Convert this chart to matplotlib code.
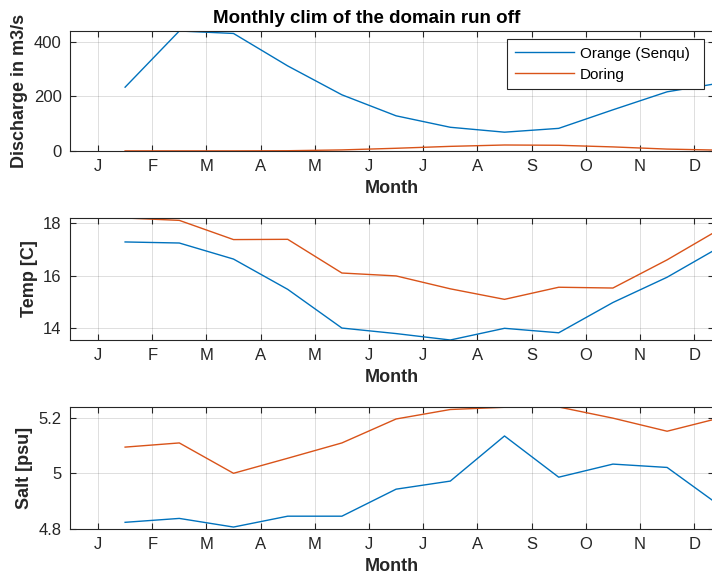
import matplotlib
matplotlib.use("Agg")
import matplotlib.pyplot as plt
import numpy as np

plt.rcParams['font.family'] = ['Liberation Sans', 'DejaVu Sans']

months = ['J', 'F', 'M', 'A', 'M', 'J', 'J', 'A', 'S', 'O', 'N', 'D']
# mid-month positions (month index + 0.5)
x_mid = np.arange(12) + 0.5

series_names = ['Orange (Senqu)', 'Doring']

discharge_orange = [234, 440, 431, 312, 206, 129, 87, 69, 83, 151, 217, 250]
discharge_doring = [0.5, 0.5, 0.5, 1, 4, 10, 17, 22, 21, 15, 7, 3]

temp_orange = [17.28, 17.24, 16.63, 15.48, 14.01, 13.80, 13.556, 14.00, 13.83, 14.98, 15.94, 17.12]
temp_doring = [18.19, 18.10, 17.37, 17.38, 16.10, 15.99, 15.50, 15.10, 15.56, 15.53, 16.60, 17.80]

salt_orange = [4.824, 4.838, 4.807, 4.846, 4.846, 4.943, 4.972, 5.134, 4.986, 5.033, 5.021, 4.880]
salt_doring = [5.094, 5.109, 5.000, 5.054, 5.109, 5.195, 5.229, 5.237, 5.238, 5.198, 5.151, 5.200]

colors = ['#0072BD', '#D95319']
dark = '#262626'

W, H = 712, 578
fig = plt.figure(figsize=(W / 100, H / 100), dpi=100)

def px_axes(left, top, right, bottom):
    return [left / W, 1 - bottom / H, (right - left) / W, (bottom - top) / H]

ax_right = 714
ax1 = fig.add_axes(px_axes(70, 31, ax_right, 151))
ax2 = fig.add_axes(px_axes(70, 218, ax_right, 340))
ax3 = fig.add_axes(px_axes(70, 407, ax_right, 529))

xl = ((70 - 98) / 54.2, (ax_right - 98) / 54.2)

panels = [
    (ax1, discharge_orange, discharge_doring, (0, 440), [0, 200, 400], ['0', '200', '400'], 'Discharge in m3/s'),
    (ax2, temp_orange, temp_doring, (13.556, 18.19), [14, 16, 18], ['14', '16', '18'], 'Temp [C]'),
    (ax3, salt_orange, salt_doring, (4.8, 5.238), [4.8, 5.0, 5.2], ['4.8', '5', '5.2'], 'Salt [psu]'),
]

for ax, s1, s2, yl, yt, ytl, ylab in panels:
    ax.plot(x_mid, s1, color=colors[0], lw=1.0, label=series_names[0])
    ax.plot(x_mid, s2, color=colors[1], lw=1.0, label=series_names[1])
    ax.set_xlim(*xl)
    ax.set_ylim(*yl)
    ax.set_xticks(np.arange(12))
    ax.set_xticklabels(months)
    ax.set_yticks(yt)
    ax.set_yticklabels(ytl)
    ax.grid(True, color=dark, alpha=0.15, lw=0.7)
    ax.set_axisbelow(True)
    for sp in ax.spines.values():
        sp.set_color(dark)
        sp.set_linewidth(0.8)
    ax.tick_params(direction='in', top=True, right=True, length=4.5, width=0.8,
                   color=dark, labelcolor=dark, labelsize=12)
    ax.tick_params(axis='x', pad=6)
    ax.tick_params(axis='y', pad=6)
    ax.set_xlabel('Month', fontsize=13, fontweight='bold', color=dark, labelpad=4)
    ax.set_ylabel(ylab, fontsize=13, fontweight='bold', color=dark, labelpad=4)

ax1.set_title('Monthly clim of the domain run off', fontsize=13.5, fontweight='bold',
              x=(366.5 - 70) / (ax_right - 70), pad=6)

aw = ax_right - 70
lx0 = (507 - 70) / aw
lw_ = (704 - 507) / aw
ly1 = (151 - 39) / 120
ly0 = (151 - 87) / 120
leg = ax1.legend(loc='upper right', bbox_to_anchor=(lx0, ly0, lw_, ly1 - ly0), mode='expand',
                 borderaxespad=0, fontsize=11, frameon=True, fancybox=False,
                 handlelength=3.9, handletextpad=0.35, labelspacing=0.45, borderpad=0.5)
leg.get_frame().set_edgecolor(dark)
leg.get_frame().set_linewidth(0.8)
leg.get_frame().set_alpha(1)

fig.savefig('out.png', dpi=100)
